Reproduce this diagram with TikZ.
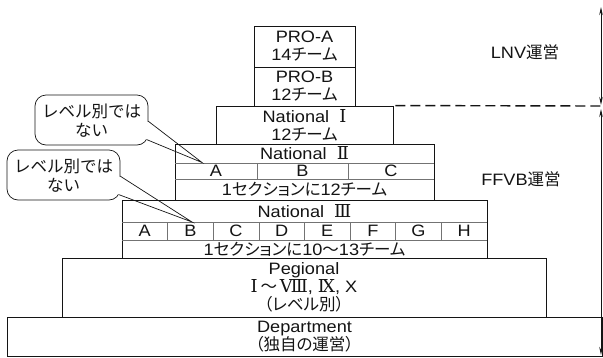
\documentclass[tikz,border=0pt]{standalone}
\usepackage{fontspec}
\setmainfont{Liberation Sans}[FakeStretch=1.1]
\newfontfamily\jp{Noto Sans CJK JP}[RawFeature=+palt]
\newfontfamily\jpw{Noto Sans CJK JP}
\newfontfamily\rn{DejaVu Serif}[Scale=1.08]
\usetikzlibrary{arrows.meta,calc}
\definecolor{ink}{HTML}{141414}
\begin{document}
\begin{tikzpicture}[x=1pt,y=-1pt,
  every node/.style={font=\fontsize{16.5}{18}\selectfont, text=ink},
  box/.style={draw=ink, line width=0.9pt, inner sep=0pt, align=center, fill=white},
  lbl/.style={inner sep=0pt, align=center},
  divider/.style={draw=black!55, line width=0.7pt},
  bubble/.style={draw=ink, line width=0.7pt, fill=white, rounded corners=11pt},
  pointer/.style={draw=ink, line width=0.7pt},
  bubbletext/.style={inner sep=0pt, font=\fontsize{16.5}{19}\selectfont\jpw},
  span/.style={draw=ink, line width=0.9pt, {Stealth[length=8pt,width=3.5pt]}-{Stealth[length=8pt,width=3.5pt]}},
  split/.style={draw=ink, line width=1.4pt, dash pattern=on 10pt off 5pt}]
\useasboundingbox (0,0) rectangle (603,357);

% pyramid
\node[box, minimum width=595pt, minimum height=39pt] (dept) at (304.5,336.5)
  {Department\\{\jp （独自の運営）}};
\node[box, minimum width=484pt, minimum height=59pt] (peg) at (304,287.5)
  {Pegional\\{\rn Ⅰ}\,{\jpw ～}\,{\rn Ⅷ}, {\rn Ⅸ}, X\\{\jp （レベル別）}};
\node[box, minimum width=365pt, minimum height=58pt] (n3) at (304.5,229) {};
\node[box, minimum width=259pt, minimum height=56pt] (n2) at (304.5,172) {};
\node[box, minimum width=177pt, minimum height=38pt] (n1) at (304.5,125)
  {National\ \ {\rn Ⅰ}\\12{\jp チーム}};
\node[box, minimum width=101pt, minimum height=39pt] (prob) at (304.5,86.5)
  {PRO-B\\12{\jp チーム}};
\node[box, minimum width=101pt, minimum height=41pt] (proa) at (304.5,46.5)
  {PRO-A\\14{\jp チーム}};

% National II
\draw[divider] (175,163) -- (434,163);
\draw[divider] (175,179) -- (434,179);
\draw[divider] (257,163) -- (257,179);
\draw[divider] (348,163) -- (348,179);
\node[lbl] (n2t) at (304.5,153.5) {National\ \ {\rn Ⅱ}};
\node[lbl] (n2a) at (216,171) {A};
\node[lbl] (n2b) at (302.5,171) {B};
\node[lbl] (n2c) at (391,171) {C};
\node[lbl] (n2s) at (304.5,189.5) {1{\jp セクションに}12{\jp チーム}};

% National III
\draw[divider] (122,222) -- (487,222);
\draw[divider] (122,240) -- (487,240);
\foreach \k in {1,...,7} \draw[divider] ({122+45.625*\k},222) -- ({122+45.625*\k},240);
\node[lbl] (n3t) at (304.5,211) {National\ \ {\rn Ⅲ}};
\foreach \L [count=\i from 0] in {A,B,C,D,E,F,G,H}
  \node[lbl] (n3\L) at ({144.8+45.625*\i},231) {\L};
\node[lbl] (n3s) at (304.5,249) {1{\jp セクションに}10{\jpw ～}13{\jp チーム}};

% right side
\coordinate (t1) at (601,7);
\coordinate (b1) at (601,105);
\coordinate (t2) at (601,109);
\coordinate (b2) at (601,355);
\coordinate (dashend) at (601,106);
\draw[span] (t1) -- (b1);
\draw[span] (t2) -- (b2);
\draw[split] ([xshift=2pt]n1.north east) -- (dashend);
\node[lbl] (lnv) at (525,52) {LNV{\jpw 運営}};
\node[lbl] (ffvb) at (521,179) {FFVB{\jpw 運営}};

% callout 1
\draw[bubble] (35,95) rectangle (148,145);
\coordinate (c1a) at (148,121);
\coordinate (c1b) at (146.5,139.5);
\coordinate (c1t) at (202,162.5);
\fill[white] ($(c1a)+(0.8,-0.5)$) -- ($(c1a)!0.2!(c1t)$) -- ($(c1b)!0.2!(c1t)$) -- ($(c1b)+(0.3,0.8)$) -- (140,130) -- cycle;
\draw[pointer] (c1a) -- (c1t) -- (c1b);
\node[bubbletext, anchor=west] (c1) at (42,111) {レベル別では};
\node[bubbletext, anchor=west] (c1n) at (75,130) {ない};

% callout 2
\draw[bubble] (7,150) rectangle (120,200);
\coordinate (c2a) at (120,176);
\coordinate (c2b) at (118.5,194.5);
\coordinate (c2t) at (192,222);
\fill[white] ($(c2a)+(0.8,-0.5)$) -- ($(c2a)!0.2!(c2t)$) -- ($(c2b)!0.2!(c2t)$) -- ($(c2b)+(0.3,0.8)$) -- (112,185) -- cycle;
\draw[pointer] (c2a) -- (c2t) -- (c2b);
\node[bubbletext, anchor=west] (c2) at (14,166) {レベル別では};
\node[bubbletext, anchor=west] (c2n) at (47,185) {ない};
\end{tikzpicture}
\end{document}
